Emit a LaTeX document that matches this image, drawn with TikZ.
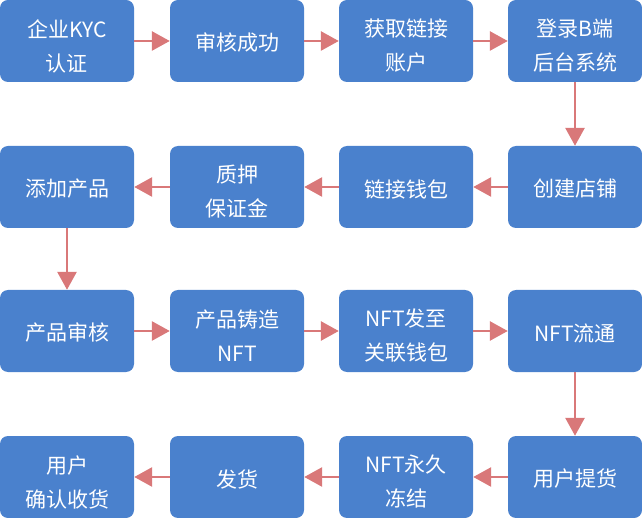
\documentclass[tikz,border=0pt]{standalone}
\usepackage{fontspec}
\setmainfont{Noto Sans CJK SC}
\usetikzlibrary{arrows.meta}
\definecolor{boxblue}{HTML}{4A81CD}
\definecolor{arrred}{HTML}{D97879}
\newcommand{\oneline}[1]{\raisebox{-2pt}[\height][\depth]{#1}}
\newcommand{\twoline}[2]{\raisebox{-5pt}[\height][\depth]{#1}\\\raisebox{-5pt}[\height][\depth]{#2}}
\tikzset{
  stepbox/.style={rectangle, rounded corners=8pt, fill=boxblue, draw=none,
    minimum width=134pt, minimum height=82pt, inner sep=0pt, text=white,
    align=center, font=\fontsize{21}{34}\selectfont},
  flow/.style={draw=arrred, line width=2.8pt, -{Triangle[length=18pt,width=19pt]}}
}
\begin{document}
\begin{tikzpicture}[x=1pt,y=1pt]
\useasboundingbox (0,0) rectangle (642,-518);
% row 1
\node[stepbox] (a1) at (67,-41) {\twoline{企业KYC}{认证}};
\node[stepbox] (a2) at (237,-41) {\oneline{审核成功}};
\node[stepbox] (a3) at (406,-41) {\twoline{获取链接}{账户}};
\node[stepbox] (a4) at (575,-41) {\twoline{登录B端}{后台系统}};
% row 2
\node[stepbox] (b1) at (67,-187) {\oneline{添加产品}};
\node[stepbox] (b2) at (237,-187) {\twoline{质押}{保证金}};
\node[stepbox] (b3) at (406,-187) {\oneline{链接钱包}};
\node[stepbox] (b4) at (575,-187) {\oneline{创建店铺}};
% row 3
\node[stepbox] (c1) at (67,-331) {\oneline{产品审核}};
\node[stepbox] (c2) at (237,-331) {\twoline{产品铸造}{NFT}};
\node[stepbox] (c3) at (406,-331) {\twoline{NFT发至}{关联钱包}};
\node[stepbox] (c4) at (575,-331) {\oneline{NFT流通}};
% row 4
\node[stepbox] (d1) at (67,-477) {\twoline{用户}{确认收货}};
\node[stepbox] (d2) at (237,-477) {\oneline{发货}};
\node[stepbox] (d3) at (406,-477) {\twoline{NFT永久}{冻结}};
\node[stepbox] (d4) at (575,-477) {\oneline{用户提货}};
% arrows
\draw[flow] (a1) -- (a2);
\draw[flow] (a2) -- (a3);
\draw[flow] (a3) -- (a4);
\draw[flow] (a4) -- (b4);
\draw[flow] (b4) -- (b3);
\draw[flow] (b3) -- (b2);
\draw[flow] (b2) -- (b1);
\draw[flow] (b1) -- (c1);
\draw[flow] (c1) -- (c2);
\draw[flow] (c2) -- (c3);
\draw[flow] (c3) -- (c4);
\draw[flow] (c4) -- (d4);
\draw[flow] (d4) -- (d3);
\draw[flow] (d3) -- (d2);
\draw[flow] (d2) -- (d1);
\end{tikzpicture}
\end{document}
